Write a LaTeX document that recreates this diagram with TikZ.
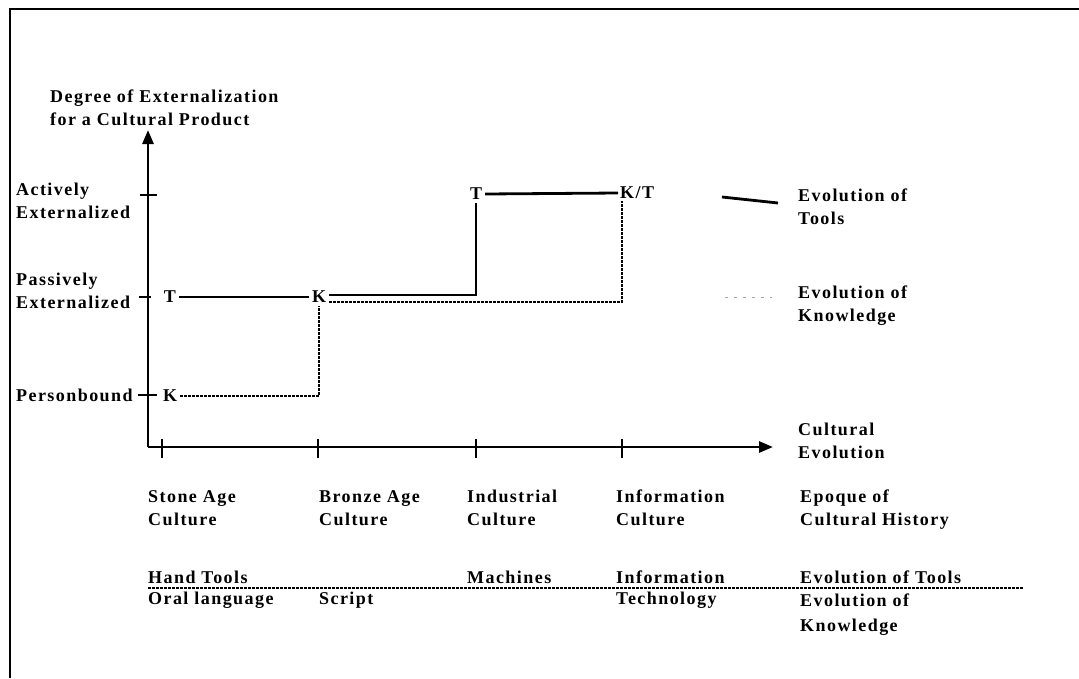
\documentclass[tikz,border=0pt]{standalone}
\usepackage{fontspec}
\newfontfamily\scanfont[LetterSpace=8]{Liberation Serif}
\usetikzlibrary{arrows.meta}
\tikzset{
  lbl/.style={font=\scanfont\bfseries\fontsize{18}{23}\selectfont, inner sep=0pt, align=left, anchor=west},
  curvelbl/.style={font=\scanfont\bfseries\fontsize{18}{23}\selectfont, inner sep=3pt},
  axis/.style={line width=2.8pt},
  tools/.style={line width=2.8pt},
  know/.style={line width=2.4pt, dash pattern=on 2.5pt off 1.5pt},
}
\begin{document}
\begin{tikzpicture}[x=1pt,y=-1pt]
\useasboundingbox (0,0) rectangle (1079,678);
% frame of the scan
\draw[line width=2.4pt] (10,678) -- (10,9) -- (1079,9);
% axes
\coordinate (O) at (148,447);
\coordinate (ytip) at (148,130);
\coordinate (xtip) at (773,447);
\draw[axis,-{Triangle[length=14pt,width=11pt]}] (O) -- (ytip);
\draw[axis,-{Triangle[length=14pt,width=11pt]}] (O) -- (xtip);
\foreach \x in {162,318,476,622}
  \draw[line width=1.8pt] (\x,439) -- (\x,458);
\draw[line width=1.8pt] (140,195) -- (157,195);
\draw[line width=1.8pt] (139,297) -- (151,297);
\draw[line width=1.8pt] (138,395) -- (157,395);
% axis labels
\node[lbl] (ylab) at (50,108) {Degree of Externalization\\for a Cultural Product};
\node[lbl] (act) at (16,201) {Actively\\Externalized};
\node[lbl] (pas) at (16,291) {Passively\\Externalized};
\node[lbl] (pers) at (16,395) {Personbound};
\node[lbl] (xlab) at (798,441) {Cultural\\Evolution};
% markers on the curves
\node[curvelbl] (T1) at (170,297) {T};
\node[curvelbl] (K0) at (170,396) {K};
\node[curvelbl] (K1) at (319,297) {K};
\node[curvelbl] (T2) at (476,194) {T};
\node[curvelbl, anchor=west, inner sep=2pt] (KT) at (618,193) {K/T};
% evolution of tools
\draw[tools] (T1.east) -- (K1.west);
\draw[tools] ([yshift=2pt]K1.east) -| (T2.south);
\draw[tools] (T2.east) -- (KT.west);
% evolution of knowledge
\draw[know] (K0.east) -| (K1.south);
\draw[know] ([yshift=-5pt]K1.east) -| ([xshift=4pt]KT.south west);
% legend
\coordinate (legT1) at (722,197);
\coordinate (legT2) at (778,203);
\draw[tools] (legT1) -- (legT2);
\coordinate (legK1) at (725,297);
\coordinate (legK2) at (772,297);
\draw[line width=1pt, gray!70, dash pattern=on 3pt off 6pt] (legK1) -- (legK2);
\node[lbl] (legTools) at (798,207) {Evolution of\\Tools};
\node[lbl] (legKnow) at (798,306) {Evolution of\\Knowledge};
% epochs
\node[lbl] (stone) at (148,508) {Stone Age\\Culture};
\node[lbl] (bronze) at (319,508) {Bronze Age\\Culture};
\node[lbl] (indus) at (467,508) {Industrial\\Culture};
\node[lbl] (info) at (616,508) {Information\\Culture};
\node[lbl] (epoque) at (800,510) {Epoque of\\Cultural History};
% tools and knowledge of each epoch
\node[lbl] (hand) at (148,577) {Hand Tools};
\node[lbl] (mach) at (467,577) {Machines};
\node[lbl] (infot) at (616,577) {Information};
\node[lbl] (evtools) at (800,577) {Evolution of Tools};
\node[lbl] (oral) at (148,600) {Oral language};
\node[lbl] (script) at (319,600) {Script};
\node[lbl] (tech) at (616,600) {Technology};
\node[lbl, anchor=north west, font=\scanfont\bfseries\fontsize{18}{25}\selectfont] (evknow) at (800,594) {Evolution of\\Knowledge};
\coordinate (sepL) at (148,588);
\coordinate (sepR) at (1023,588);
\draw[know, line width=2pt] (sepL) -- (sepR);
\end{tikzpicture}
\end{document}
